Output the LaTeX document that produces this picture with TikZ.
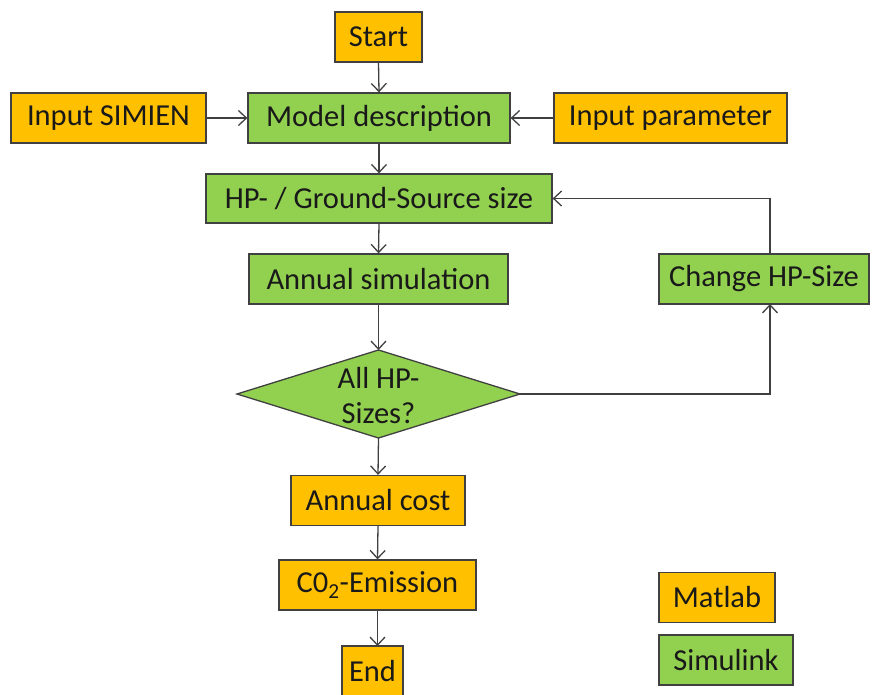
\documentclass[tikz,border=0pt]{standalone}
\usepackage{fontspec}
\setmainfont{Carlito}
\usetikzlibrary{arrows.meta,shapes.geometric}
\definecolor{matorange}{HTML}{FFC000}
\definecolor{simgreen}{HTML}{92D050}
\definecolor{edgegray}{HTML}{404040}
\begin{document}
\begin{tikzpicture}[x=1pt,y=-1pt,
  base/.style={draw=edgegray,line width=1.3pt,inner sep=0pt,minimum height=50pt,
    font=\fontsize{30.5}{35}\selectfont,text=black!90},
  mbox/.style={base,fill=matorange},
  sbox/.style={base,fill=simgreen},
  conn/.style={draw=edgegray,line width=1.3pt,-{Straight Barb[length=8pt,width=15pt]}}]
\useasboundingbox (0,0) rectangle (872,695);
\node[mbox,minimum width=87pt] (start) at (378.5,37) {Start};
\node[mbox,minimum width=195pt] (simien) at (108.5,118) {Input SIMIEN};
\node[sbox,minimum width=262pt] (model) at (379,118) {Model description};
\node[mbox,minimum width=233pt] (param) at (670.5,118) {Input parameter};
\node[sbox,minimum width=346pt,minimum height=49pt] (hp) at (379,198.5) {HP- / Ground-Source size};
\node[sbox,minimum width=259pt] (annsim) at (378.5,279) {Annual simulation};
\node[sbox,minimum width=210pt] (change) at (764,279) {Change HP-Size};
\draw[draw=edgegray,line width=1.3pt,fill=simgreen] (237,394) -- (378.5,350) -- (520,394) -- (378.5,438) -- cycle;
\coordinate (dW) at (237,394);
\coordinate (dN) at (378.5,350);
\coordinate (dE) at (520,394);
\coordinate (dS) at (378.5,438);
\node[font=\fontsize{30.5}{35}\selectfont,text=black!90,align=center] (decision) at (378.5,396) {All HP-\\Sizes?};
\node[mbox,minimum width=174pt] (cost) at (378,500.5) {Annual cost};
\node[mbox,minimum width=197pt] (co2) at (377.5,585) {C0\textsubscript{2}-Emission};
\node[mbox,minimum width=61pt] (end) at (372.5,671) {End};
\node[mbox,minimum width=116pt] (matlab) at (717,597.5) {Matlab};
\node[sbox,minimum width=134pt] (simulink) at (726,660) {Simulink};
\coordinate (cR) at (770,394);
\coordinate (cB) at (770,304);
\coordinate (cT) at (770,254);
\coordinate (cU) at (770,198.5);
\coordinate (eTop) at (377.5,646);
\draw[conn] (start.south) -- (model.north);
\draw[conn] (simien.east) -- (model.west);
\draw[conn] (param.west) -- (model.east);
\draw[conn] (model.south) -- (hp.north);
\draw[conn] (hp.south) -- (annsim.north);
\draw[conn] (annsim.south) -- (dN);
\draw[conn] (dS) -- (cost.north);
\draw[conn] (cost.south) -- (co2.north);
\draw[conn] (co2.south) -- (eTop);
\draw[conn] (dE) -- (cR) -- (cB);
\draw[conn] (cT) -- (cU) -- (hp.east);
\end{tikzpicture}
\end{document}
